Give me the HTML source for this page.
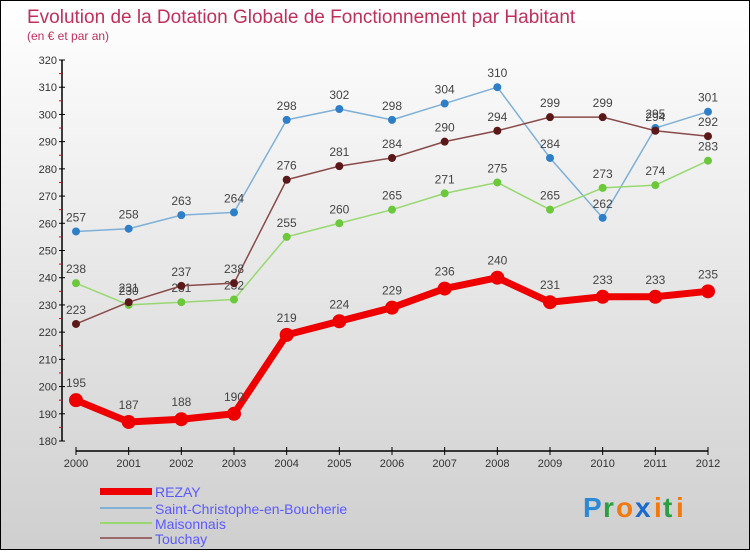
<!DOCTYPE html>
<html><head><meta charset="utf-8"><style>
html,body{margin:0;padding:0}
body{width:750px;height:550px;overflow:hidden;font-family:"Liberation Sans",sans-serif}
#wrap{position:relative;width:748px;height:548px;border:1px solid #000;background:linear-gradient(#ffffff,#cfcfcf)}
</style></head><body>
<div id="wrap">
<svg id="chart" width="748" height="548" xmlns="http://www.w3.org/2000/svg">
<text x="26" y="22" font-size="19" fill="#c0305a">Evolution de la Dotation Globale de Fonctionnement par Habitant</text>
<text x="26" y="39" font-size="12" fill="#c0305a">(en € et par an)</text>
<g id="axes"></g>
<g id="series"></g>
<g id="legend">
<rect x="99" y="487" width="52" height="7" fill="#e00"/>
<text x="154" y="496" font-size="14" fill="#5a5aff">REZAY</text>
<rect x="99" y="506" width="52" height="2" fill="#7fb0d8"/>
<text x="154" y="513" font-size="14" fill="#5a5aff">Saint-Christophe-en-Boucherie</text>
<rect x="99" y="521" width="52" height="2" fill="#98d870"/>
<text x="154" y="528" font-size="14" fill="#5a5aff">Maisonnais</text>
<rect x="99" y="536" width="52" height="2" fill="#9a6a6a"/>
<text x="154" y="543" font-size="14" fill="#5a5aff">Touchay</text>
</g>
<g font-size="28" font-weight="bold">
<text x="582" y="516" fill="#2a8ad8">P</text><text x="602" y="516" fill="#2aa040">r</text><text x="615" y="516" fill="#f07a10">o</text><text x="634" y="516" fill="#1a6ad0">x</text><text x="653" y="516" fill="#f07a10">i</text><text x="662" y="516" fill="#2aa040">t</text><text x="675" y="516" fill="#f07a10">i</text>
</g>
</svg>
</div>
<script>
const years=["2000","2001","2002","2003","2004","2005","2006","2007","2008","2009","2010","2011","2012"];
const yTicks=[180,190,200,210,220,230,240,250,260,270,280,290,300,310,320];
const rezay=[195,187,188,190,219,224,229,236,240,231,233,233,235];
const scb=[257,258,263,264,298,302,298,304,310,284,262,295,301];
const maisonnais=[238,230,231,232,255,260,265,271,275,265,273,274,283];
const touchay=[223,231,237,238,276,281,284,290,294,299,299,294,292];
const NS="http://www.w3.org/2000/svg";
const yMin=180,yMax=320,yTop=59,yBot=440,x0=75,x1=707;
const sy=v=>yBot-(v-yMin)/(yMax-yMin)*(yBot-yTop);
const sx=i=>x0+i*(x1-x0)/(years.length-1);
function mk(tag,attrs,parent){const e=document.createElementNS(NS,tag);for(const k in attrs)e.setAttribute(k,attrs[k]);parent.appendChild(e);return e;}
const axes=document.getElementById('axes');
const ya=mk('line',{x1:61,y1:yTop,x2:61,y2:yBot,stroke:'#000','stroke-width':1.5},axes);


yTicks.forEach((v,i)=>{
  const y=sy(v);
  mk('line',{x1:58,y1:y,x2:64,y2:y,stroke:'#000'},axes);
  const t=mk('text',{x:56,y:y+4,'font-size':11,fill:'#333','text-anchor':'end'},axes);
  t.textContent=v;
  
  
  if(i<yTicks.length-1){const ym=sy(v+5);mk('line',{x1:58,y1:ym,x2:61,y2:ym,stroke:'#e00'},axes);}
});
const xa=mk('line',{x1:x0,y1:450,x2:x1,y2:450,stroke:'#000','stroke-width':1.5},axes);


years.forEach((yr,i)=>{
  const x=sx(i);
  mk('line',{x1:x,y1:446,x2:x,y2:454,stroke:'#000'},axes);
  const t=mk('text',{x:x,y:466,'font-size':11,fill:'#333','text-anchor':'middle'},axes);
  t.textContent=yr;
  
  
});
const seriesG=document.getElementById('series');
function draw(vals,name,color,dot,w,r){
  const g=mk('g',{},seriesG);
  
  
  const pl=mk('polyline',{points:vals.map((v,i)=>sx(i)+','+sy(v)).join(' '),fill:'none',stroke:color,'stroke-width':w,'stroke-linejoin':'round'},g);
  
  
  vals.forEach((v,i)=>{
    const c=mk('circle',{cx:sx(i),cy:sy(v),r:r,fill:dot},g);
    
    
    const t=mk('text',{x:sx(i),y:sy(v)-r-6,'font-size':12,fill:'#444','text-anchor':'middle'},g);
    t.textContent=v;
    
    
  });
}
draw(scb,'scb','#7fb0d8','#2f7fc8',1.5,4);
draw(maisonnais,'maisonnais','#98d870','#6ac83a',1.5,4);
draw(touchay,'touchay','#8a4a4a','#5a1818',1.5,4);
draw(rezay,'rezay','#ee0000','#ee0000',7,7);
</script>
</body></html>
